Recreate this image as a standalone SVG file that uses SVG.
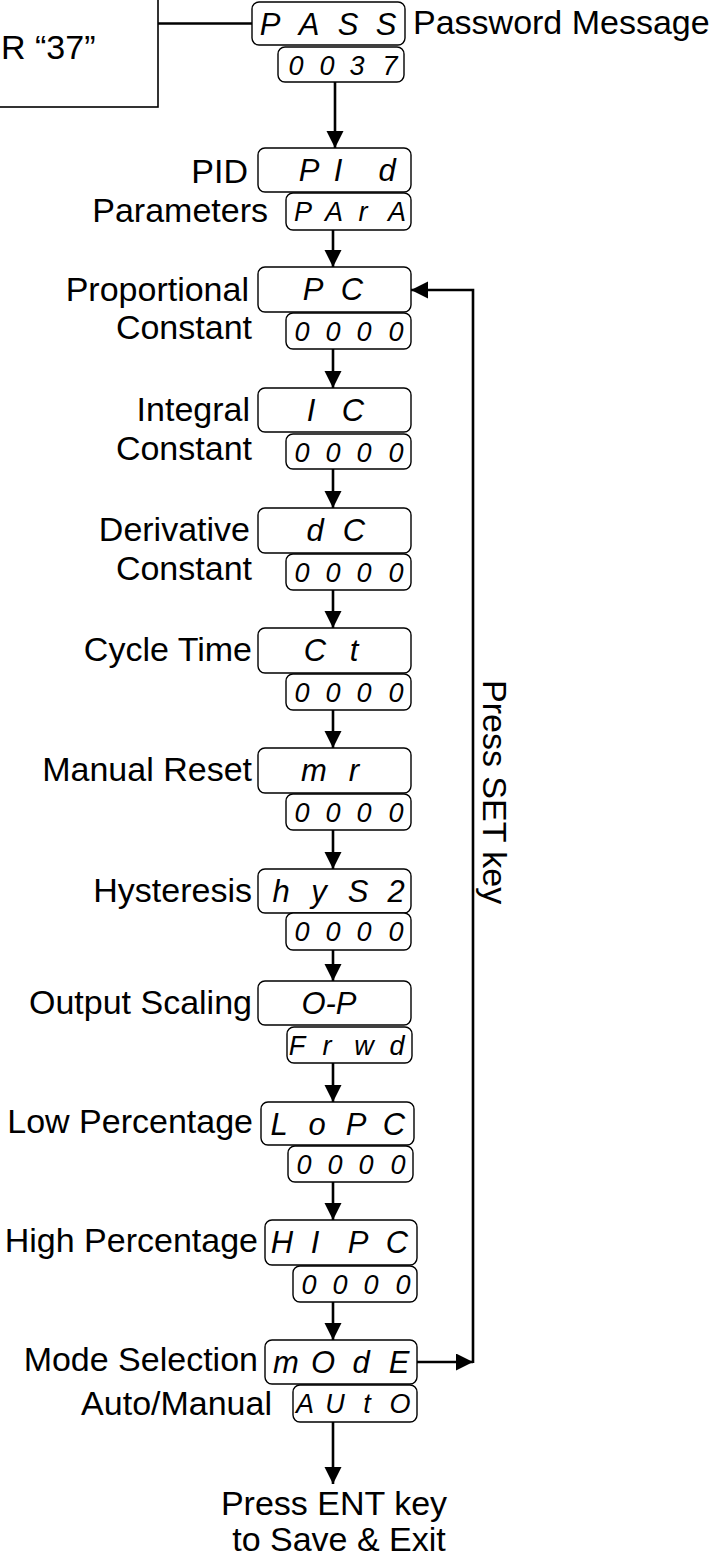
<svg xmlns="http://www.w3.org/2000/svg" width="720" height="1557" viewBox="0 0 720 1557">
<style>
.lbl{font-family:"Liberation Sans",Arial,sans-serif;font-size:34px;fill:#000}
.end{text-anchor:end}
.mid{text-anchor:middle}
.seg{font-family:"Liberation Sans",Arial,sans-serif;font-style:italic;fill:#000;text-anchor:middle}
.big{font-size:31px}
.sm{font-size:27px}
.box{fill:#fff;stroke:#000;stroke-width:1.4}
.con{stroke:#000;stroke-width:2.6;fill:none}
</style>
<defs>
<marker id="ah" markerUnits="userSpaceOnUse" markerWidth="18" markerHeight="18" refX="17" refY="8.5" orient="auto"><path d="M0,0 L17,8.5 L0,17 z" fill="#000"/></marker>
</defs>
<rect width="720" height="1557" fill="#fff"/>
<g id="connectors">
<path class="con" d="M158,23.5 H252"/>
<path class="con" d="M335,82 V148" marker-end="url(#ah)"/>
<path class="con" d="M333,230 V267" marker-end="url(#ah)"/>
<path class="con" d="M333,349 V388" marker-end="url(#ah)"/>
<path class="con" d="M333,469 V508" marker-end="url(#ah)"/>
<path class="con" d="M333,590 V628" marker-end="url(#ah)"/>
<path class="con" d="M333,710 V748" marker-end="url(#ah)"/>
<path class="con" d="M333,830 V869" marker-end="url(#ah)"/>
<path class="con" d="M333,942 V981" marker-end="url(#ah)"/>
<path class="con" d="M333,1063 V1102" marker-end="url(#ah)"/>
<path class="con" d="M333,1182 V1220" marker-end="url(#ah)"/>
<path class="con" d="M333,1302 V1340" marker-end="url(#ah)"/>
<path class="con" d="M333,1422 V1484" marker-end="url(#ah)"/>
<path class="con" d="M417,1362 H473" marker-end="url(#ah)"/>
<path class="con" d="M473,1363 V290 H411" marker-end="url(#ah)"/>
</g>
<g id="enter-box">
<rect x="-10" y="-10" width="168" height="117" fill="#fff" stroke="#000" stroke-width="1.6"/>
<text class="lbl" x="1" y="59" font-size="32">R “37”</text>
</g>
<g id="pass">
<rect class="box" x="252" y="2" width="153" height="43" rx="7"/>
<text class="seg big" x="270 309 348 386" y="35">PASS</text>
<rect class="box" x="278" y="47" width="126" height="35" rx="7"/>
<text class="seg sm" x="296 327 357 390" y="75">0037</text>
<text class="lbl" x="413" y="34">Password Message</text>
</g>
<g id="pid">
<rect class="box" x="258" y="148" width="153" height="44" rx="7"/>
<text class="seg big" x="309 338 387" y="181">PId</text>
<rect class="box" x="286" y="193" width="125" height="37" rx="7"/>
<text class="seg sm" x="303 334 363 397" y="221">PArA</text>
<text class="lbl end" x="248" y="183">PID</text>
<text class="lbl end" x="268" y="222">Parameters</text>
</g>
<g id="pc">
<rect class="box" x="258" y="267" width="153" height="45" rx="7"/>
<text class="seg big" x="313 352" y="300">PC</text>
<rect class="box" x="286" y="313" width="125" height="36" rx="7"/>
<text class="seg sm" x="302 333 364 396" y="341">0000</text>
<text class="lbl end" x="249" y="301">Proportional</text>
<text class="lbl end" x="252" y="339">Constant</text>
</g>
<g id="ic">
<rect class="box" x="258" y="388" width="153" height="44" rx="7"/>
<text class="seg big" x="311 353" y="421">IC</text>
<rect class="box" x="286" y="434" width="125" height="35" rx="7"/>
<text class="seg sm" x="302 333 364 396" y="462">0000</text>
<text class="lbl end" x="250" y="421">Integral</text>
<text class="lbl end" x="252" y="460">Constant</text>
</g>
<g id="dc">
<rect class="box" x="258" y="508" width="153" height="45" rx="7"/>
<text class="seg big" x="315 354" y="541">dC</text>
<rect class="box" x="286" y="554" width="125" height="36" rx="7"/>
<text class="seg sm" x="302 333 364 396" y="582">0000</text>
<text class="lbl end" x="250" y="541">Derivative</text>
<text class="lbl end" x="252" y="580">Constant</text>
</g>
<g id="ct">
<rect class="box" x="258" y="628" width="153" height="45" rx="7"/>
<text class="seg big" x="315 354" y="661">Ct</text>
<rect class="box" x="286" y="674" width="125" height="36" rx="7"/>
<text class="seg sm" x="302 333 364 396" y="702">0000</text>
<text class="lbl end" x="252" y="661">Cycle Time</text>
</g>
<g id="mr">
<rect class="box" x="258" y="748" width="153" height="45" rx="7"/>
<text class="seg big" x="314 354" y="781">mr</text>
<rect class="box" x="286" y="794" width="125" height="36" rx="7"/>
<text class="seg sm" x="302 333 364 396" y="822">0000</text>
<text class="lbl end" x="252" y="781">Manual Reset</text>
</g>
<g id="hys">
<rect class="box" x="258" y="869" width="153" height="44" rx="7"/>
<text class="seg big" x="281 319 358 396" y="902">hyS2</text>
<rect class="box" x="286" y="913" width="125" height="37" rx="7"/>
<text class="seg sm" x="302 333 364 396" y="941">0000</text>
<text class="lbl end" x="252" y="902">Hysteresis</text>
</g>
<g id="op">
<rect class="box" x="258" y="981" width="153" height="44" rx="7"/>
<text class="seg big" x="329" y="1014">O-P</text>
<rect class="box" x="287" y="1027" width="125" height="36" rx="7"/>
<text class="seg sm" x="297 327 364 397" y="1055">Frwd</text>
<text class="lbl end" x="252" y="1014">Output Scaling</text>
</g>
<g id="lopc">
<rect class="box" x="261" y="1102" width="153" height="43" rx="7"/>
<text class="seg big" x="279 317 356 394" y="1135">LoPC</text>
<rect class="box" x="288" y="1146" width="125" height="36" rx="7"/>
<text class="seg sm" x="304 335 366 398" y="1174">0000</text>
<text class="lbl end" x="253" y="1133">Low Percentage</text>
</g>
<g id="hipc">
<rect class="box" x="265" y="1220" width="152" height="45" rx="7"/>
<text class="seg big" x="282 315 358 397" y="1253">HIPC</text>
<rect class="box" x="293" y="1266" width="124" height="36" rx="7"/>
<text class="seg sm" x="309 340 371 403" y="1294">0000</text>
<text class="lbl end" x="258" y="1252">High Percentage</text>
</g>
<g id="mode">
<rect class="box" x="265" y="1340" width="152" height="44" rx="7"/>
<text class="seg big" x="286 323 361 399" y="1373">mOdE</text>
<rect class="box" x="293" y="1385" width="124" height="37" rx="7"/>
<text class="seg sm" x="305 335 367 400" y="1413">AUtO</text>
<text class="lbl end" x="258" y="1371">Mode Selection</text>
<text class="lbl end" x="272" y="1415">Auto/Manual</text>
</g>
<g id="exit">
<text class="lbl mid" x="334" y="1515">Press ENT key</text>
<text class="lbl mid" x="339" y="1551">to Save &amp; Exit</text>
</g>
<g id="set-key">
<text class="lbl" transform="translate(483,680) rotate(90)">Press SET key</text>
</g>
</svg>
